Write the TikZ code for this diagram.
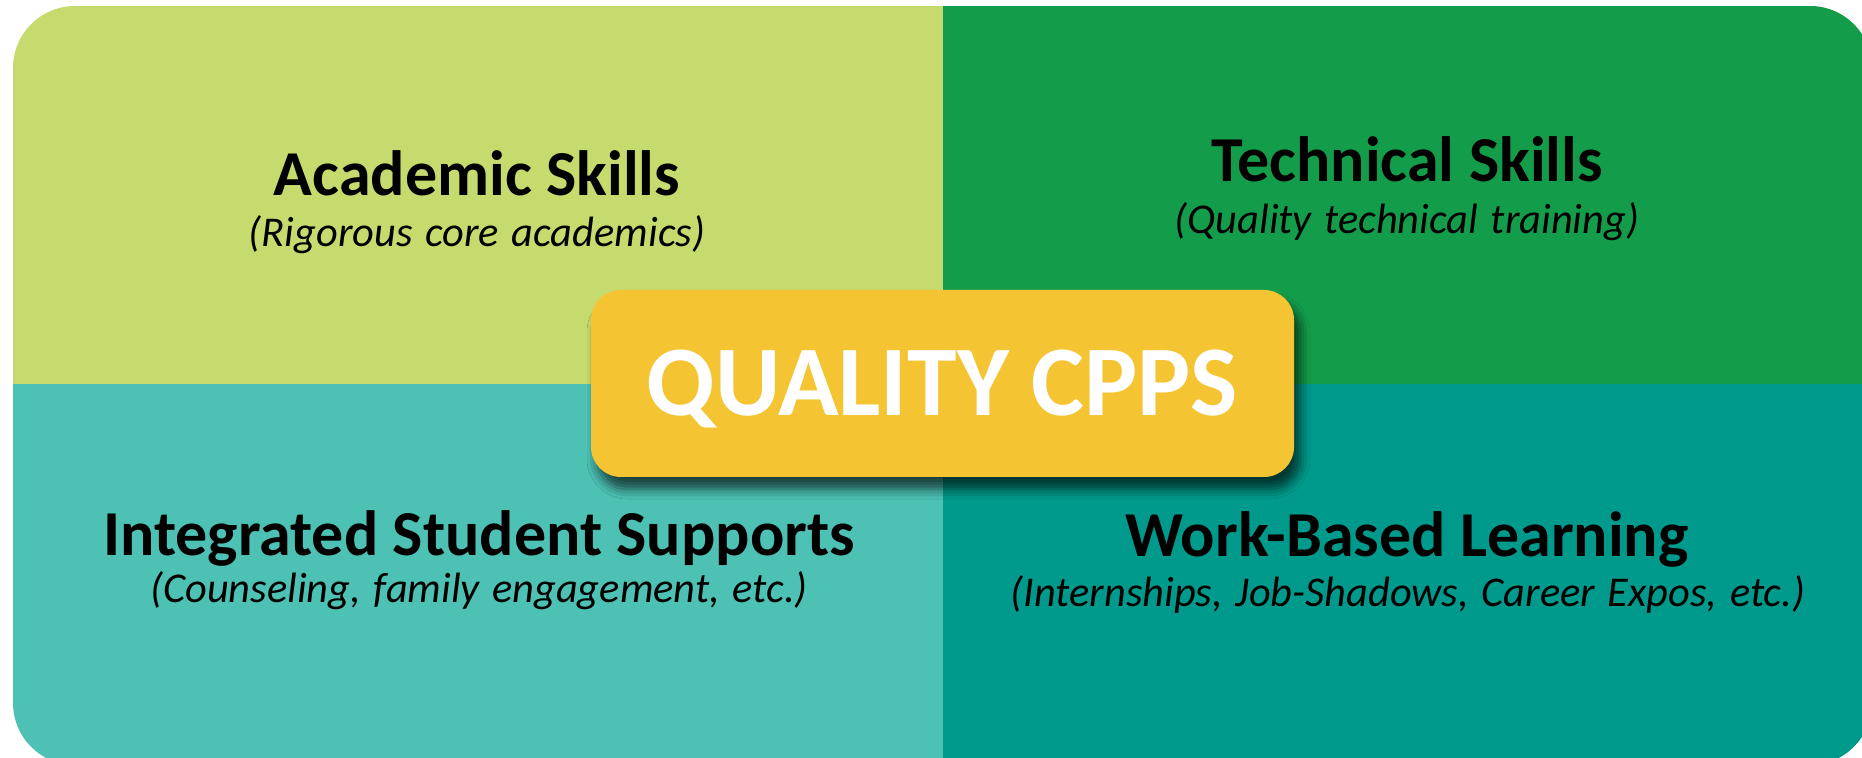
\documentclass[tikz,border=0pt]{standalone}
\usepackage{fontspec}
\setmainfont{Carlito}
\usetikzlibrary{shadows.blur}
\definecolor{lgreen}{RGB}{198,219,110}
\definecolor{dgreen}{RGB}{19,157,75}
\definecolor{lteal}{RGB}{76,193,180}
\definecolor{dteal}{RGB}{0,154,140}
\definecolor{cyellow}{RGB}{245,196,51}
\newcommand{\mysubfont}{\fontsize{21.2}{25}\selectfont\itshape\spaceskip=6.3pt\relax}
\tikzset{
  title/.style={anchor=base, font=\fontsize{32}{38}\selectfont\bfseries, text=black, inner sep=0pt},
  subtitle/.style={anchor=base, font=\mysubfont, text=black, inner sep=0pt},
  centerbox/.style={fill=cyellow, rounded corners=15pt, minimum width=351.5pt, minimum height=93.5pt, inner sep=0pt,
    blur shadow={shadow xshift=3pt, shadow yshift=-6pt, shadow blur radius=5pt, shadow opacity=65}},
  centertext/.style={anchor=base, font=\fontsize{50}{60}\selectfont\bfseries, text=white, inner sep=0pt}
}
\begin{document}
\begin{tikzpicture}[x=0.5pt,y=-0.5pt]
\useasboundingbox (0,0) rectangle (1862,758);
\begin{scope}
  \clip[rounded corners=31pt] (13,6) rectangle (1872,765);
  \fill[lgreen] (13,6) rectangle (943,384);
  \fill[dgreen] (943,6) rectangle (1872,384);
  \fill[lteal] (13,384) rectangle (943,765);
  \fill[dteal] (943,384) rectangle (1872,765);
\end{scope}
\node[title] (as) at (477,196) {Academic Skills};
\node[subtitle] (ass) at (477,247) {(Rigorous core academics)};
\node[title] (ts) at (1407,182) {Technical Skills};
\node[subtitle] (tss) at (1407,234) {(Quality technical training)};
\node[title] (iss) at (479,555) {Integrated Student Supports};
\node[subtitle] (isss) at (479,603) {(Counseling, family engagement, etc.)};
\node[title] (wbl) at (1407,556) {Work-Based Learning};
\node[subtitle] (wbls) at (1408,606) {(Internships, Job-Shadows, Career Expos, etc.)};
\node[centerbox] (box) at (942.5,383.5) {};
\node[centertext] (q) at (942.5,416) {QUALITY CPPS};
\end{tikzpicture}
\end{document}
